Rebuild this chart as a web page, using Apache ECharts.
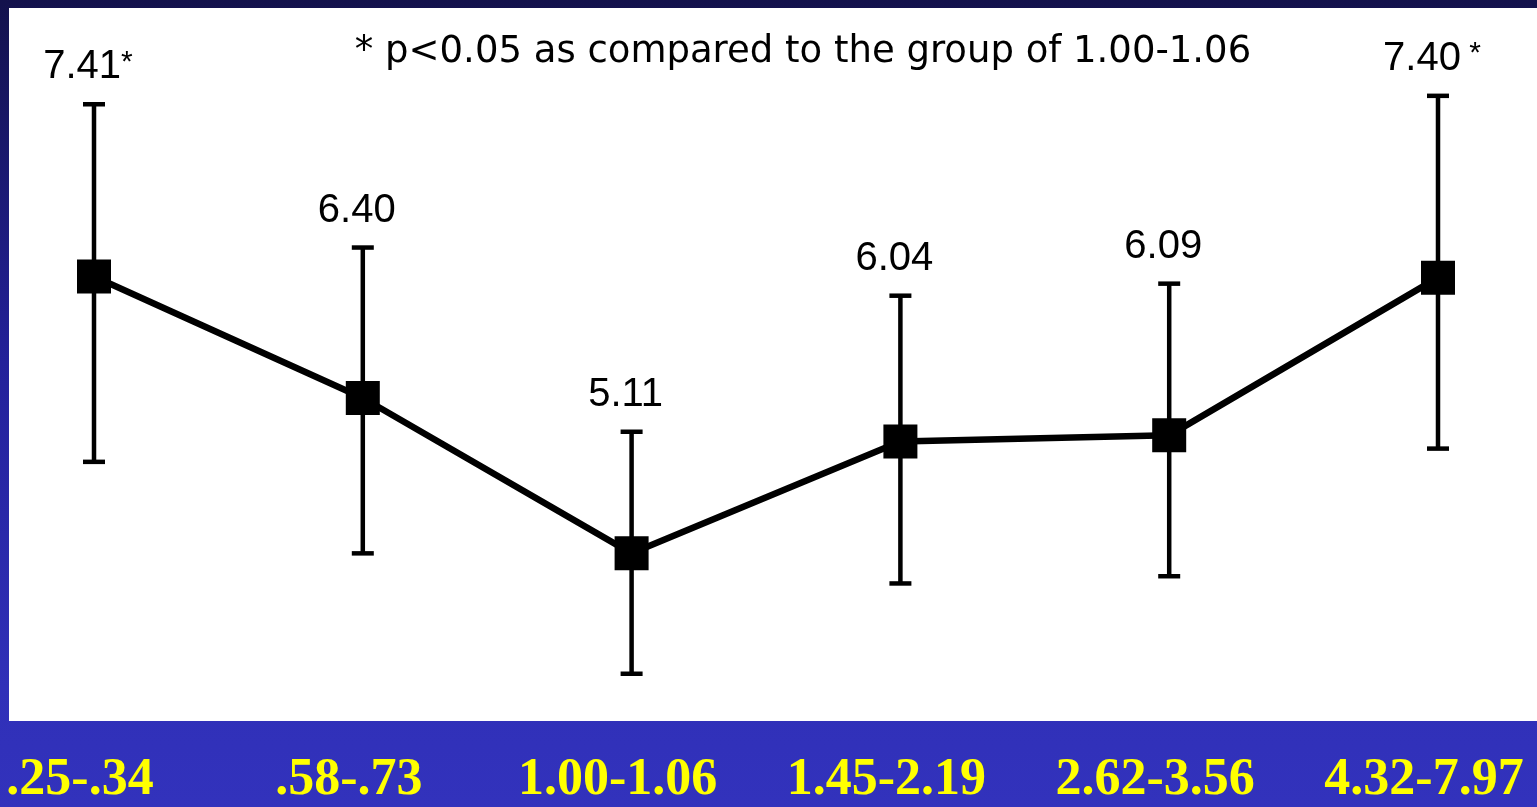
<!DOCTYPE html>
<html>
<head>
<meta charset="utf-8">
<script src="https://cdn.jsdelivr.net/npm/echarts@6/dist/echarts.min.js"></script>
<style>
  html, body { margin: 0; padding: 0; width: 1537px; height: 807px; overflow: hidden; }
  #chart { width: 1537px; height: 807px; }
</style>
</head>
<body>
<div id="chart"></div>
<script>
// ---- data ----
var categories = ['.25-.34', '.58-.73', '1.00-1.06', '1.45-2.19', '2.62-3.56', '4.32-7.97'];
var means      = [7.41, 6.40, 5.11, 6.04, 6.09, 7.40];
var upperEnds  = [8.84, 7.65, 6.12, 7.25, 7.35, 8.91];
var lowerEnds  = [5.87, 5.11, 4.11, 4.86, 4.92, 5.98];
var sigMarks   = ['*', '', '', '', '', ' *'];
var noteText   = '* p<0.05 as compared to the group of 1.00-1.06';

var errData = categories.map(function (c, i) { return [i, lowerEnds[i], upperEnds[i], means[i]]; });

var chart = echarts.init(document.getElementById('chart'));
chart.setOption({
  animation: false,
  backgroundColor: {
    type: 'linear', x: 0, y: 0, x2: 0, y2: 1,
    colorStops: [
      { offset: 0, color: '#13124C' },
      { offset: 0.45, color: '#23219A' },
      { offset: 0.85, color: '#3030B8' },
      { offset: 1, color: '#3232BC' }
    ]
  },
  graphic: [
    { type: 'rect', z: -10, shape: { x: 9, y: 8, width: 1540, height: 713 }, style: { fill: '#ffffff' } },
    { type: 'text', z: 10, x: 803, y: 52,
      style: { text: noteText, align: 'center', verticalAlign: 'middle',
               font: '37px "DejaVu Sans"', fill: '#000' } }
  ],
  grid: [
    { left: 94, right: 99, top: 85, height: 602 },
    { left: 80, right: 113, top: 700, height: 40 }
  ],
  xAxis: [
    { type: 'category', gridIndex: 0, data: categories, boundaryGap: false, show: false },
    { type: 'category', gridIndex: 1, data: categories, boundaryGap: false,
      axisLine: { show: false }, axisTick: { show: false }, splitLine: { show: false },
      axisLabel: { interval: 0, margin: 43, verticalAlign: 'middle', color: '#FFFF00',
                   fontFamily: '"Liberation Serif", "Times New Roman", serif', fontWeight: 'bold', fontSize: 52 } }
  ],
  yAxis: [
    { type: 'value', gridIndex: 0, min: 4, max: 9, show: false },
    { type: 'value', gridIndex: 1, show: false }
  ],
  series: [
    {
      type: 'custom', xAxisIndex: 0, yAxisIndex: 0, z: 2,
      data: errData,
      renderItem: function (params, api) {
        var x = api.coord([api.value(0), api.value(1)])[0];
        var yLow = api.coord([api.value(0), api.value(1)])[1];
        var yHigh = api.coord([api.value(0), api.value(2)])[1];
        var i = params.dataIndex;
        var lw = 4.5, cap = 11;
        return {
          type: 'group',
          children: [
            { type: 'line', shape: { x1: x, y1: yHigh, x2: x, y2: yLow }, style: { stroke: '#000', lineWidth: lw } },
            { type: 'line', shape: { x1: x - cap, y1: yHigh, x2: x + cap, y2: yHigh }, style: { stroke: '#000', lineWidth: lw } },
            { type: 'line', shape: { x1: x - cap, y1: yLow, x2: x + cap, y2: yLow }, style: { stroke: '#000', lineWidth: lw } },
            { type: 'text', style: {
                x: x - 6, y: yHigh - 37, align: 'center', verticalAlign: 'middle',
                text: '{n|' + means[i].toFixed(2) + '}' + (sigMarks[i] ? '{s|' + sigMarks[i] + '}' : ''),
                rich: {
                  n: { font: '40px "Liberation Sans", Arial, sans-serif', fill: '#000' },
                  s: { font: '30px "Liberation Sans", Arial, sans-serif', fill: '#000', verticalAlign: 'top' }
                }
              } }
          ]
        };
      }
    },
    {
      type: 'line', xAxisIndex: 0, yAxisIndex: 0, z: 3,
      data: means,
      symbol: 'rect', symbolSize: 34,
      lineStyle: { color: '#000', width: 6.5 },
      itemStyle: { color: '#000' },
      label: { show: false }
    }
  ]
});
</script>
</body>
</html>
